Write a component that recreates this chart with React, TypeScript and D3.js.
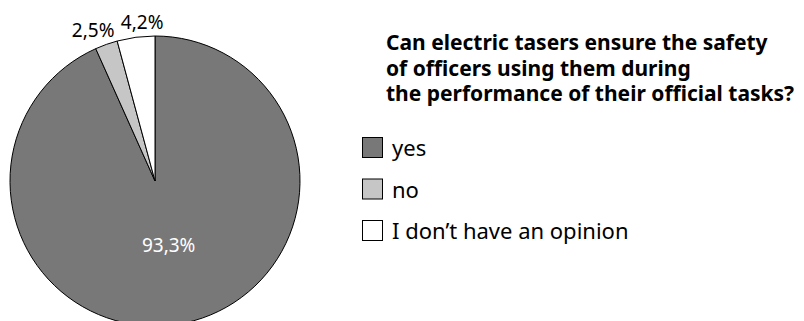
import React from "react";
import * as d3 from "d3";

const categories = ["yes", "no", "I don\u2019t have an opinion"];
const values = [93.3, 2.5, 4.2];
const valueLabels = ["93,3%", "2,5%", "4,2%"];
const colors = ["#787878", "#c6c6c6", "#ffffff"];
const titleLines = [
  "Can electric tasers ensure the safety",
  "of officers using them during",
  "the performance of their official tasks?",
];

const W = 804;
const H = 321;
const FONT = "'Noto Sans', 'Open Sans', sans-serif";

export default function App() {
  const cx = 155;
  const cy = 181;
  const r = 145;
  const pie = d3.pie<number>().sort(null).value((d) => d);
  const arcs = pie(values);
  const arc = d3.arc<d3.PieArcDatum<number>>().innerRadius(0).outerRadius(r);
  const labelArc = d3
    .arc<d3.PieArcDatum<number>>()
    .innerRadius(r + 15)
    .outerRadius(r + 15);
  const innerArc = d3
    .arc<d3.PieArcDatum<number>>()
    .innerRadius(r * 0.45)
    .outerRadius(r * 0.45);

  const labels = arcs.map((a, i) => {
    const big = a.endAngle - a.startAngle > Math.PI;
    const [x, y] = big ? innerArc.centroid(a) : labelArc.centroid(a);
    return { i, x, y, fill: big ? "#fff" : "#000", big };
  });
  // simple collision avoidance among outer labels
  const outer = labels.filter((l) => !l.big).sort((a, b) => a.x - b.x);
  const labelW = 42;
  for (let k = 1; k < outer.length; k++) {
    const a = outer[k - 1];
    const b = outer[k];
    const need = labelW + 7 - (b.x - a.x);
    if (need > 0) {
      a.x -= need / 2;
      b.x += need / 2;
    }
  }

  const legendX = 362;
  const legendY0 = 137;
  const legendStep = 41.5;
  const box = 20;

  return (
    <svg
      width={W}
      height={H}
      style={{ position: "absolute", left: 0, top: 0, background: "#fff" }}
      fontFamily={FONT}
    >
      <g transform={`translate(${cx},${cy})`}>
        {arcs.map((a, i) => (
          <path key={i} d={arc(a) || ""} fill={colors[i]} stroke="#000" strokeWidth={1} strokeLinejoin="round" />
        ))}
        {labels.map((l) => (
          <text
            key={l.i}
            x={l.x}
            y={l.y}
            textAnchor="middle"
            dominantBaseline="central"
            fontSize={19}
            fill={l.fill}
          >
            {valueLabels[l.i]}
          </text>
        ))}
      </g>
      <g>
        {titleLines.map((t, i) => (
          <text key={i} x={386} y={50 + i * 25.5} fontSize={21} fontWeight="bold" fill="#000">
            {t}
          </text>
        ))}
      </g>
      <g>
        {categories.map((c, i) => (
          <g key={i} transform={`translate(${legendX},${legendY0 + i * legendStep})`}>
            <rect x={0.5} y={0.5} width={box} height={box} fill={colors[i]} stroke="#000" strokeWidth={1} />
            <text x={30} y={box / 2} dominantBaseline="central" fontSize={22} fill="#000">
              {c}
            </text>
          </g>
        ))}
      </g>
    </svg>
  );
}
